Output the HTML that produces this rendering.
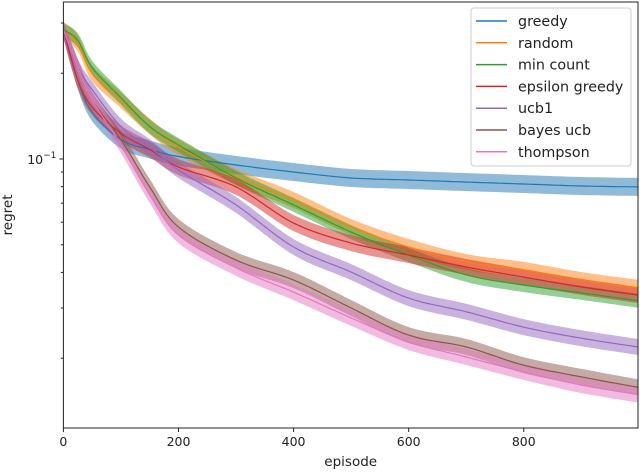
<!DOCTYPE html>
<html><head><meta charset="utf-8"><style>
body{margin:0;background:#fff;}
svg{display:block;font-family:"DejaVu Sans","Liberation Sans",sans-serif;}
</style></head><body>
<svg id="chart" width="640" height="473" viewBox="0 0 640 473"></svg>
<script>
const episodes=[0,25,50,100,150,200,300,400,500,600,700,800,900,999];
const seriesNames=["greedy","random","min count","epsilon greedy","ucb1","bayes ucb","thompson"];
const greedyVals=[.284,.189,.146,.117,.108,.102,.0953,.0900,.0858,.0844,.0830,.0817,.0804,.0798];
const randomVals=[.284,.255,.200,.161,.130,.110,.0865,.0718,.0577,.0491,.0435,.0408,.0376,.0353];
const minCountVals=[.284,.261,.209,.164,.130,.112,.0858,.0690,.0554,.0460,.0392,.0361,.0339,.0318];
const epsVals=[.284,.189,.152,.123,.108,.0937,.0798,.0596,.0507,.0460,.0418,.0385,.0356,.0333];
const ucbVals=[.284,.210,.175,.130,.110,.0915,.0690,.0491,.0401,.0325,.0291,.0257,.0235,.0219];
const bayesVals=[.284,.210,.161,.117,.0798,.0577,.0442,.0376,.0300,.0241,.0219,.0189,.0172,.0158];
const thompsonVals=[.284,.210,.161,.112,.0748,.0541,.0415,.0341,.0277,.0228,.0202,.0179,.0161,.0149];
const xTicks=[0,200,400,600,800];
const yMinorTicks=[0.02,0.03,0.04,0.05,0.06,0.07,0.08,0.09,0.2,0.3];

const NS="http://www.w3.org/2000/svg";
const svg=document.getElementById('chart');
const L=63.4,R=638,T=2,B=428;
const xs=e=>L+e*0.5755;
const ys=v=>159-285*(Math.log10(v)+1);
function mk(tag,attrs,parent){const e=document.createElementNS(NS,tag);for(const k in attrs)e.setAttribute(k,attrs[k]);(parent||svg).appendChild(e);return e;}
// smooth points via Catmull-Rom sampling in pixel space
function smooth(pts){
  const out=[];
  for(let i=0;i<pts.length-1;i++){
    const p0=pts[Math.max(i-1,0)],p1=pts[i],p2=pts[i+1],p3=pts[Math.min(i+2,pts.length-1)];
    for(let k=0;k<12;k++){
      const t=k/12,t2=t*t,t3=t2*t;
      const f=(a,b,c,d)=>0.5*((2*b)+(-a+c)*t+(2*a-5*b+4*c-d)*t2+(-a+3*b-3*c+d)*t3);
      out.push([f(p0[0],p1[0],p2[0],p3[0]),f(p0[1],p1[1],p2[1],p3[1])]);
    }
  }
  out.push(pts[pts.length-1]);
  return out;
}

const colors=["#1f77b4","#ff7f0e","#2ca02c","#d62728","#9467bd","#8c564b","#e377c2"];
const allVals=[greedyVals,randomVals,minCountVals,epsVals,ucbVals,bayesVals,thompsonVals];
const bandHalf=[9,8,7,8,8,8,8];

const gPlot=mk('g',{});


const curves=allVals.map(vals=>smooth(episodes.map((e,j)=>[xs(e),ys(vals[j])])));
curves.forEach((c,i)=>{
  const up=c.map(p=>p[0].toFixed(1)+','+(p[1]-bandHalf[i]).toFixed(1));
  const dn=c.map(p=>p[0].toFixed(1)+','+(p[1]+bandHalf[i]).toFixed(1)).reverse();
  const p=mk('polygon',{points:up.concat(dn).join(' '),fill:colors[i],'fill-opacity':0.5,stroke:'none'},gPlot);
  
  
});
curves.forEach((c,i)=>{
  const pts=c.map(p=>p[0].toFixed(1)+','+p[1].toFixed(1)).join(' ');
  const l=mk('polyline',{points:pts,fill:'none',stroke:colors[i],'stroke-width':1.2},gPlot);
  
  
});
const fr=mk('rect',{x:L,y:T,width:R-L,height:B-T,fill:'none',stroke:'#222','stroke-width':1});


xTicks.forEach(t=>{
  const x=xs(t);
  const tk=mk('line',{x1:x,x2:x,y1:B,y2:B+4,stroke:'#222'});
  
  
  const tx=mk('text',{x:x,y:B+18,'text-anchor':'middle','font-size':12.5,fill:'#222'});
  tx.textContent=t;
  
  
});
yMinorTicks.forEach(v=>{
  const y=ys(v);
  const tk=mk('line',{x1:L-2.5,x2:L,y1:y,y2:y,stroke:'#222'});
  
  
});
const ymaj=mk('line',{x1:L-4,x2:L,y1:ys(0.1),y2:ys(0.1),stroke:'#222'});


const yl=mk('text',{x:L-7,y:ys(0.1)+5,'text-anchor':'end','font-size':12.5,fill:'#222'});
yl.innerHTML='10<tspan dy="-6" font-size="9">−1</tspan>';


const xt=mk('text',{x:(L+R)/2,y:466,'text-anchor':'middle','font-size':13.5,fill:'#222'});
xt.textContent='episode';


const yt=mk('text',{x:0,y:0,'text-anchor':'middle','font-size':13.5,fill:'#222',transform:'translate(12,215) rotate(-90)'});
yt.textContent='regret';


const lg=mk('g',{});


mk('rect',{x:471,y:8,width:160,height:158,rx:3,fill:'#fff','fill-opacity':0.85,stroke:'#ccc'},lg);
seriesNames.forEach((n,i)=>{
  const y=21+i*21.8;
  const ent=mk('g',{},lg);
  
  
  mk('line',{x1:476,x2:507,y1:y,y2:y,stroke:colors[i],'stroke-width':1.5},ent);
  const t=mk('text',{x:518,y:y+5,'font-size':14.3,fill:'#222'},ent);
  t.textContent=n;
});
</script>
</body></html>
